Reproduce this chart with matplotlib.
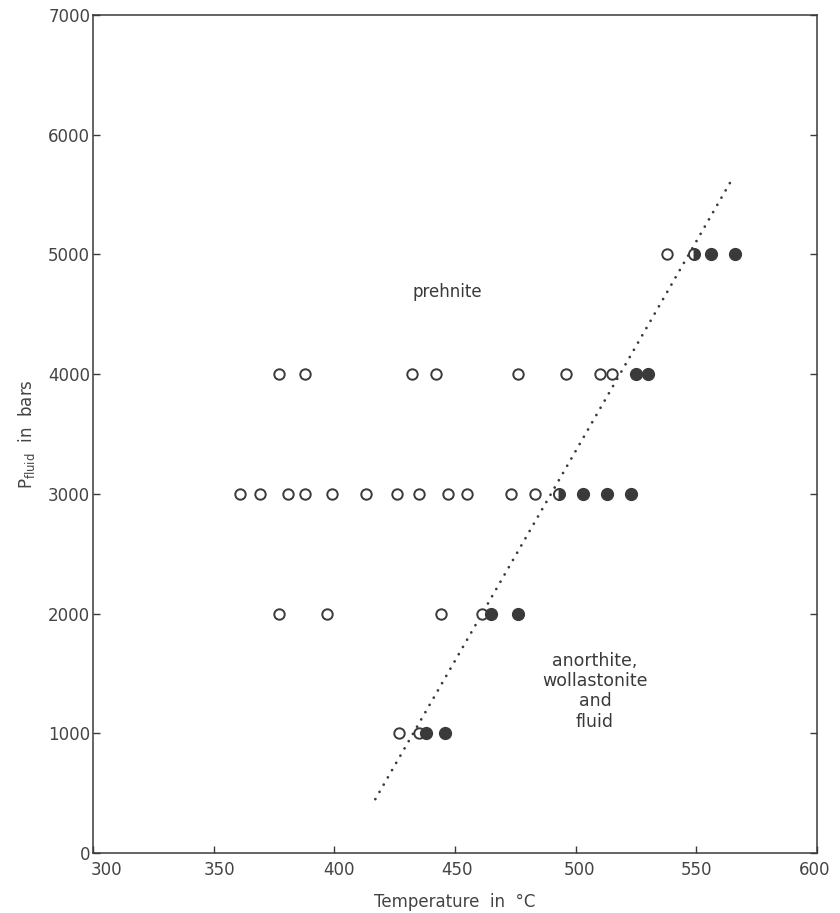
import matplotlib.pyplot as plt
import matplotlib.transforms as mtransforms

# experimental runs: temperature (C) and fluid pressure (bars)
open_T = [538, 377, 388, 432, 442, 476, 496, 510, 515,
          361, 369, 381, 388, 399, 413, 426, 435, 447, 455, 473, 483,
          377, 397, 444, 461, 427, 435]
open_P = [5000, 4000, 4000, 4000, 4000, 4000, 4000, 4000, 4000,
          3000, 3000, 3000, 3000, 3000, 3000, 3000, 3000, 3000, 3000, 3000, 3000,
          2000, 2000, 2000, 2000, 1000, 1000]

filled_T = [556, 566, 525, 530, 503, 513, 523, 465, 476, 438, 446]
filled_P = [5000, 5000, 4000, 4000, 3000, 3000, 3000, 2000, 2000, 1000, 1000]

half_T = [549, 493]
half_P = [5000, 3000]

# reaction boundary (dotted)
line_T = [417, 564]
line_P = [450, 5600]

xticks = [300, 350, 400, 450, 500, 550, 600]
yticks = [0, 1000, 2000, 3000, 4000, 5000, 6000, 7000]

ink = '#3a3a3a'
plt.rcParams['font.family'] = 'DejaVu Sans'

fig = plt.figure(figsize=(8.4, 9.13), dpi=100)
ax = fig.add_axes([93 / 840, 1 - 853 / 913, 724 / 840, 838 / 913])

ax.plot(line_T, line_P, color=ink, lw=2.0, linestyle=(0, (0.01, 3.0)),
        dash_capstyle='round', zorder=2)

ax.plot(open_T, open_P, 'o', ms=7.5, mfc='white', mec=ink, mew=1.4,
        linestyle='none', zorder=3)
ax.plot(half_T, half_P, 'o', ms=8, fillstyle='right', mfc=ink,
        mfcalt='white', mec=ink, mew=1.4, linestyle='none', zorder=3)
ax.plot(filled_T, filled_P, 'o', ms=8.5, mfc=ink, mec=ink, mew=1.0,
        linestyle='none', zorder=4)

ax.text(447, 4690, 'prehnite', fontsize=12, color=ink, ha='center', va='center')
ax.text(508, 1350, 'anorthite,\nwollastonite\nand\nfluid', fontsize=12.5,
        color=ink, ha='center', va='center', multialignment='center',
        linespacing=1.15)

ax.set_xlim(300, 600)
ax.set_ylim(0, 7000)
ax.set_xticks(xticks)
ax.set_yticks(yticks)
ax.tick_params(direction='in', length=5, width=1, colors=ink,
               labelsize=12, labelcolor='#444444')
ax.tick_params(axis='x', pad=6)
ax.tick_params(axis='y', pad=2, right=True)

# hand-lettered x labels sit slightly right of their ticks
labels = ax.get_xticklabels()
shifts = [13, 6, 5, 2, 4, 0, -2]
for lab, dx in zip(labels, shifts):
    off = mtransforms.ScaledTranslation(dx / 100, 0, fig.dpi_scale_trans)
    lab.set_transform(lab.get_transform() + off)

for sp in ax.spines.values():
    sp.set_color(ink)
    sp.set_linewidth(1.1)

ax.set_xlabel('Temperature  in  °C', fontsize=12, color='#444444', labelpad=10)
ax.set_ylabel(r'$\mathregular{P_{fluid}}$  in  bars', fontsize=12,
              color='#444444', labelpad=8)

fig.savefig('out.png', dpi=100)
